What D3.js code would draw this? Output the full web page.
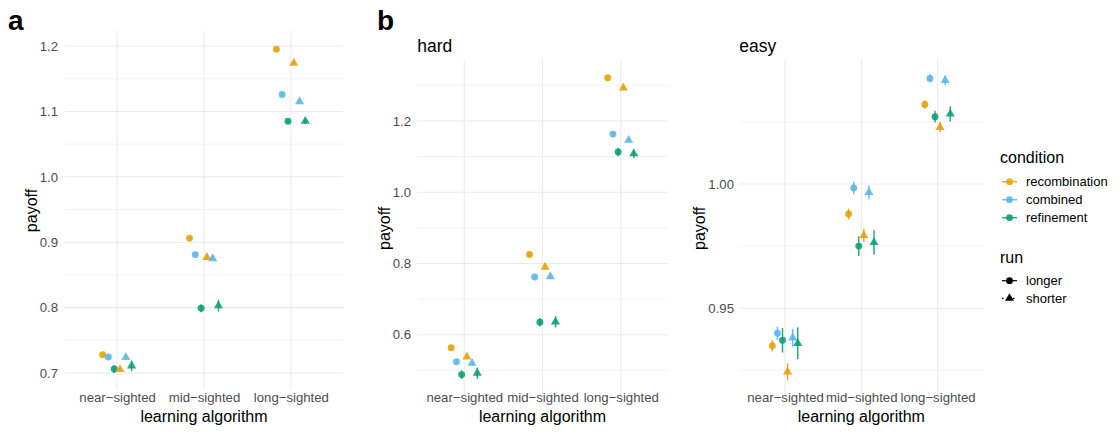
<!DOCTYPE html>
<html>
<head>
<meta charset="utf-8">
<script src="https://cdn.jsdelivr.net/npm/d3@7"></script>
<style>
  body { margin: 0; background: #fff; }
  svg text { font-family: "Liberation Sans", Arial, sans-serif; }
</style>
</head>
<body>
<svg id="chart" width="1120" height="434"></svg>
<script>
// categories
var algorithms = ["near\u2212sighted", "mid\u2212sighted", "long\u2212sighted"];
var conditions = ["recombination", "combined", "refinement"];
var runs = ["longer", "shorter"];
var colors = ["#E69F00", "#56B4E9", "#009E73"];

// values: rows = condition (recombination, combined, refinement), cols = algorithm
var a_longer = [[0.728, 0.906, 1.195], [0.7245, 0.881, 1.126], [0.706, 0.799, 1.085]];
var a_longer_err = [[0.002, 0.002, 0.002], [0.002, 0.002, 0.002], [0.006, 0.006, 0.003]];
var a_shorter = [[0.7055, 0.877, 1.174], [0.724, 0.875, 1.115], [0.711, 0.803, 1.085]];
var a_shorter_err = [[0.003, 0.003, 0.002], [0.003, 0.003, 0.002], [0.008, 0.009, 0.004]];

var hard_longer = [[0.5636, 0.825, 1.321], [0.524, 0.762, 1.163], [0.488, 0.635, 1.113]];
var hard_longer_err = [[0.004, 0.004, 0.004], [0.004, 0.004, 0.004], [0.012, 0.012, 0.012]];
var hard_shorter = [[0.538, 0.79, 1.293], [0.52, 0.763, 1.146], [0.492, 0.636, 1.108]];
var hard_shorter_err = [[0.006, 0.006, 0.005], [0.006, 0.006, 0.005], [0.016, 0.016, 0.012]];

var easy_longer = [[0.9349, 0.9879, 1.032], [0.9399, 0.9984, 1.0425], [0.9371, 0.975, 1.0271]];
var easy_longer_err = [[0.0023, 0.0022, 0.0017], [0.0027, 0.0026, 0.0017], [0.0049, 0.004, 0.0024]];
var easy_shorter = [[0.9244, 0.9793, 1.0228], [0.9381, 0.9966, 1.0417], [0.9359, 0.9765, 1.0282]];
var easy_shorter_err = [[0.0034, 0.0027, 0.002], [0.0036, 0.0028, 0.002], [0.0064, 0.0049, 0.0031]];

var svg = d3.select("#chart");

function draw_panel(opts) {
    // ggplot discrete expand 0.6 on each side
    var x = d3.scalePoint().domain(algorithms)
        .range([opts.left, opts.right]).padding(0.6);
    var step = x.step();
    var y = d3.scaleLinear().domain(opts.ydomain).range([opts.bottom, opts.top]);

    var g = svg.append("g");

    // minor grid
    opts.minor.forEach(function (v) {
        g.append("line")
            .attr("x1", opts.left).attr("x2", opts.right)
            .attr("y1", y(v)).attr("y2", y(v))
            .attr("stroke", "#ebebeb").attr("stroke-width", 0.6);
    });
    // major grid
    opts.ticks.forEach(function (v) {
        g.append("line")
            .attr("x1", opts.left).attr("x2", opts.right)
            .attr("y1", y(v)).attr("y2", y(v))
            .attr("stroke", "#ebebeb").attr("stroke-width", 1.1);
    });
    algorithms.forEach(function (a) {
        g.append("line")
            .attr("x1", x(a)).attr("x2", x(a))
            .attr("y1", opts.top).attr("y2", opts.bottom)
            .attr("stroke", "#ebebeb").attr("stroke-width", 1.1);
    });

    // y axis labels
    var yAxis = d3.axisLeft(y).tickValues(opts.ticks).tickFormat(d3.format(opts.fmt))
        .tickSize(0).tickPadding(0);
    var ya = g.append("g")
        .attr("transform", "translate(" + opts.labelRight + ",0)")
        .call(yAxis);
    ya.select(".domain").remove();
    ya.selectAll("text").attr("fill", "#4d4d4d").style("font-size", "13.2px")
        .style("font-family", "'Liberation Sans', Arial, sans-serif");

    // x axis labels
    var xAxis = d3.axisBottom(x).tickSize(0).tickPadding(0);
    var xa = g.append("g")
        .attr("transform", "translate(0,393)")
        .call(xAxis);
    xa.select(".domain").remove();
    xa.selectAll("text").attr("fill", "#4d4d4d").style("font-size", "13.2px")
        .style("font-family", "'Liberation Sans', Arial, sans-serif");

    g.append("text")
        .attr("x", (opts.left + opts.right) / 2).attr("y", 422)
        .attr("text-anchor", "middle")
        .style("font-size", "16px")
        .text("learning algorithm");

    g.append("text")
        .attr("transform", "translate(" + opts.ylabX + "," + ((opts.top + opts.bottom) / 2) + ") rotate(-90)")
        .attr("text-anchor", "middle")
        .style("font-size", "16px")
        .text("payoff");

    if (opts.strip) {
        g.append("text")
            .attr("x", opts.left).attr("y", 51.7)
            .style("font-size", "17.5px")
            .text(opts.strip);
    }

    // points, dodged by run then condition
    var dw = step * 0.4 / 6;
    var sets = [[opts.longer, opts.longer_err], [opts.shorter, opts.shorter_err]];
    sets.forEach(function (set, r) {
        conditions.forEach(function (c, ci) {
            algorithms.forEach(function (a, ai) {
                var k = r * 3 + ci;
                var px = x(a) + (k - 2.5) * dw;
                var m = set[0][ci][ai], e = set[1][ci][ai];
                g.append("line")
                    .attr("x1", px).attr("x2", px)
                    .attr("y1", y(m - e)).attr("y2", y(m + e))
                    .attr("stroke", colors[ci]).attr("stroke-width", 1.5)
                    .attr("opacity", 0.85);
                g.append("path")
                    .attr("transform", "translate(" + px + "," + y(m) + ")")
                    .attr("d", d3.symbol().type(r == 0 ? d3.symbolCircle : d3.symbolTriangle)
                        .size(r == 0 ? 38 : 36)())
                    .attr("fill", colors[ci])
                    .attr("opacity", 0.85);
            });
        });
    });
}

draw_panel({
    left: 65, right: 343, top: 31, bottom: 390,
    ydomain: [0.674, 1.223],
    ticks: [0.7, 0.8, 0.9, 1.0, 1.1, 1.2],
    minor: [0.75, 0.85, 0.95, 1.05, 1.15],
    fmt: ".1f", labelRight: 58, ylabX: 36.5,
    longer: a_longer, longer_err: a_longer_err,
    shorter: a_shorter, shorter_err: a_shorter_err
});

draw_panel({
    left: 417.3, right: 667.7, top: 60, bottom: 396.7,
    ydomain: [0.426, 1.371],
    ticks: [0.6, 0.8, 1.0, 1.2],
    minor: [0.5, 0.7, 0.9, 1.1, 1.3],
    fmt: ".1f", labelRight: 411, ylabX: 390, strip: "hard",
    longer: hard_longer, longer_err: hard_longer_err,
    shorter: hard_shorter, shorter_err: hard_shorter_err
});

draw_panel({
    left: 739.3, right: 983.3, top: 60, bottom: 396.7,
    ydomain: [0.9144, 1.0499],
    ticks: [0.95, 1.0],
    minor: [0.925, 0.975, 1.025],
    fmt: ".2f", labelRight: 734, ylabX: 705, strip: "easy",
    longer: easy_longer, longer_err: easy_longer_err,
    shorter: easy_shorter, shorter_err: easy_shorter_err
});

// panel tags
svg.append("text").attr("x", 8).attr("y", 29.5)
    .style("font-size", "28px").style("font-weight", "bold").text("a");
svg.append("text").attr("x", 377).attr("y", 30)
    .style("font-size", "28px").style("font-weight", "bold").text("b");

// legend
var lg = svg.append("g");
lg.append("text").attr("x", 1000).attr("y", 163.3)
    .style("font-size", "16px").text("condition");
conditions.forEach(function (c, i) {
    var ly = 181.7 + i * 18;
    lg.append("line").attr("x1", 1002).attr("x2", 1017)
        .attr("y1", ly).attr("y2", ly)
        .attr("stroke", colors[i]).attr("stroke-width", 1.5).attr("opacity", 0.85);
    lg.append("circle").attr("cx", 1009.5).attr("cy", ly).attr("r", 3.4)
        .attr("fill", colors[i]).attr("opacity", 0.85);
    lg.append("text").attr("x", 1026).attr("y", ly + 4.6)
        .style("font-size", "13px").text(c);
});
lg.append("text").attr("x", 1000).attr("y", 263)
    .style("font-size", "16px").text("run");
runs.forEach(function (r, i) {
    var ly = 280.7 + i * 17.6;
    lg.append("line").attr("x1", 1002).attr("x2", 1017)
        .attr("y1", ly).attr("y2", ly)
        .attr("stroke", "#000").attr("stroke-width", 1.2)
        .attr("stroke-dasharray", i == 0 ? null : "1.5,4");
    lg.append("path")
        .attr("transform", "translate(1009.5," + ly + ")")
        .attr("d", d3.symbol().type(i == 0 ? d3.symbolCircle : d3.symbolTriangle).size(i == 0 ? 36 : 34)())
        .attr("fill", "#000");
    lg.append("text").attr("x", 1026).attr("y", ly + 4.6)
        .style("font-size", "13px").text(r);
});
</script>
</body>
</html>
